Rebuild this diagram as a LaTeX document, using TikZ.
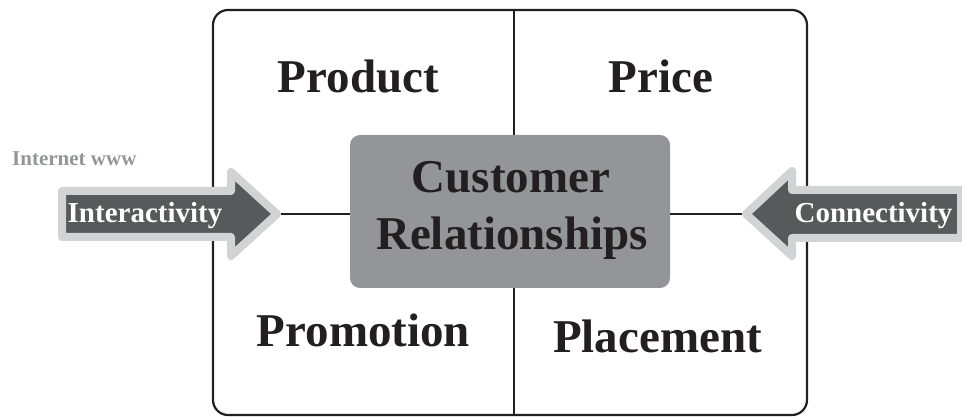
\documentclass[tikz,border=0pt]{standalone}
\usepackage{fontspec}
\setmainfont{Liberation Serif}
\definecolor{ink}{HTML}{231F20}
\definecolor{midgray}{HTML}{939598}
\definecolor{lightgraytwo}{HTML}{D1D3D4}
\definecolor{darkgraytwo}{HTML}{58595B}
\begin{document}
\begin{tikzpicture}[x=1pt,y=-1pt,
  frameline/.style={draw=ink, line width=2.2pt, rounded corners=15pt, inner sep=0},
  conn/.style={draw=ink, line width=1.6pt},
  centerbox/.style={fill=midgray, rounded corners=10pt, inner sep=0},
  arrowshape/.style={draw=lightgraytwo, fill=darkgraytwo, line width=8pt, line join=round},
  bigtext/.style={font=\fontsize{47}{57}\selectfont\bfseries, text=ink, inner sep=0, anchor=base},
  arrowtext/.style={font=\fontsize{29}{35}\selectfont\bfseries, text=white, inner sep=0, anchor=base},
  webtext/.style={font=\fontsize{21}{25}\selectfont\bfseries, text=midgray, inner sep=0, anchor=base west}]
\useasboundingbox (0,0) rectangle (962,419);
% frame and centre box
\node[frameline, minimum width=594pt, minimum height=405pt] (frame) at (510,212.5) {};
\node[centerbox, minimum width=320pt, minimum height=153pt] (cr) at (510,211.5) {};
% arrows
\draw[arrowshape] (62,191) -- (231,191) -- (231,172) -- (277,214) -- (231,256) -- (231,237) -- (62,237) -- cycle;
\draw[arrowshape] (961,190) -- (792,190) -- (792,171) -- (746,214) -- (792,256) -- (792,238) -- (961,238) -- cycle;
\coordinate (ltip) at (281,214);
\coordinate (rtip) at (742,214);
% connectors
\draw[conn] ([xshift=4pt]frame.north) -- ([xshift=4pt]cr.north);
\draw[conn] ([xshift=4pt]cr.south) -- ([xshift=4pt]frame.south);
\draw[conn] (ltip) -- (ltip -| cr.west);
\draw[conn] (rtip -| cr.east) -- (rtip);
% texts
\node[bigtext] (product) at (358.5,93) {Product};
\node[bigtext] (price) at (661,93) {Price};
\node[bigtext] (promotion) at (363.5,347) {Promotion};
\node[bigtext] (placement) at (657.5,353) {Placement};
\node[bigtext] (cust) at (511,193) {Customer};
\node[bigtext] (rel) at (512,250) {Relationships};
\node[arrowtext] (inter) at (145,223) {Interactivity};
\node[arrowtext] (connect) at (873.5,223) {Connectivity};
\node[webtext] (web) at (12,166) {Internet www};
\end{tikzpicture}
\end{document}
